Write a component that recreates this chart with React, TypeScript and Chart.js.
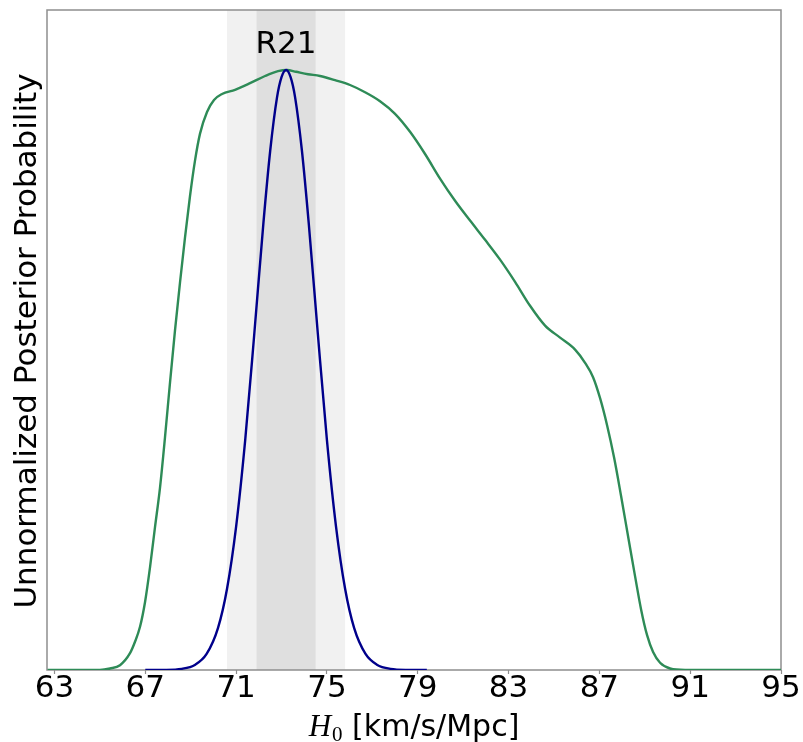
import React, { useEffect, useRef } from "react";
import { Chart, registerables } from "chart.js";

Chart.register(...registerables);

// ---- data ----
const X_MIN = 62.67;
const X_MAX = 95;
const Y_MIN = 0;
const Y_MAX = 1.1;
const X_TICKS = [63, 67, 71, 75, 79, 83, 87, 91, 95];

const R21_LABEL = "R21";
const R21_MEAN = 73.2;
const R21_SIGMA = 1.3;

const GREEN_X = [
  62.7, 65.0, 65.445, 65.885, 66.326, 66.546, 66.767, 66.987, 67.207, 67.427, 67.648, 67.868,
  68.088, 68.308, 68.529, 68.749, 68.969, 69.189, 69.41, 69.718, 70.026, 70.379, 70.952, 71.612,
  72.273, 72.846, 73.242, 73.639, 74.167, 74.696, 75.357, 76.018, 76.678, 77.339, 78.0, 78.661,
  79.322, 79.982, 80.643, 81.304, 81.965, 82.626, 83.286, 83.947, 84.608, 85.269, 85.93, 86.37,
  86.722, 87.031, 87.339, 87.648, 87.956, 88.264, 88.573, 88.837, 89.101, 89.366, 89.674,
  90.115, 90.775, 95.0,
];
const GREEN_Y = [
  0, 0, 0.0025, 0.008, 0.028, 0.047, 0.072, 0.113, 0.171, 0.238, 0.304, 0.388, 0.479, 0.566,
  0.646, 0.721, 0.79, 0.849, 0.894, 0.93, 0.95, 0.96, 0.967, 0.978, 0.99, 0.998, 1.0, 0.997,
  0.993, 0.99, 0.983, 0.975, 0.963, 0.948, 0.927, 0.897, 0.86, 0.819, 0.782, 0.749, 0.717,
  0.684, 0.647, 0.607, 0.574, 0.554, 0.534, 0.512, 0.488, 0.453, 0.408, 0.354, 0.29, 0.223,
  0.156, 0.101, 0.058, 0.03, 0.012, 0.0025, 0, 0,
];

const BLUE_X = [
  67.0, 67.8, 68.6, 69.2, 69.7, 70.2, 70.6, 71.0, 71.4, 71.8, 72.2, 72.5, 72.8, 73.0, 73.2,
  73.4, 73.6, 73.9, 74.2, 74.6, 75.0, 75.4, 75.8, 76.2, 76.7, 77.2, 77.8, 78.6, 79.4,
];
const BLUE_Y = [
  0, 0.0002, 0.0019, 0.0088, 0.0267, 0.0697, 0.1353, 0.239, 0.383, 0.56, 0.744, 0.865, 0.954,
  0.988, 1.0, 0.988, 0.954, 0.865, 0.744, 0.56, 0.383, 0.239, 0.1353, 0.0697, 0.0267, 0.0088,
  0.0019, 0.0002, 0,
];

const X_LABEL_MATH = "H";
const X_LABEL_SUB = "0";
const X_LABEL_REST = " [km/s/Mpc]";
const Y_LABEL = "Unnormalized Posterior Probability";

const SANS = '"DejaVu Sans", sans-serif';

const decorPlugin = {
  id: "decor",
  beforeDatasetsDraw(chart: any) {
    const { ctx, chartArea } = chart;
    const xs = chart.scales.x;
    const { top, bottom, left, right } = chartArea;
    ctx.save();
    const o1 = xs.getPixelForValue(R21_MEAN - 2 * R21_SIGMA);
    const o2 = xs.getPixelForValue(R21_MEAN + 2 * R21_SIGMA);
    ctx.fillStyle = "#f1f1f1";
    ctx.fillRect(o1, top, o2 - o1, bottom - top);
    const i1 = xs.getPixelForValue(R21_MEAN - R21_SIGMA);
    const i2 = xs.getPixelForValue(R21_MEAN + R21_SIGMA);
    ctx.fillStyle = "#dfdfdf";
    ctx.fillRect(i1, top, i2 - i1, bottom - top);
    ctx.strokeStyle = "#8e8e8e";
    ctx.lineWidth = 1.5;
    ctx.strokeRect(left, top, right - left, bottom - top);
    ctx.restore();
  },
  afterDraw(chart: any) {
    const { ctx, chartArea } = chart;
    const xs = chart.scales.x;
    const { top, bottom, left, right } = chartArea;
    ctx.save();
    ctx.fillStyle = "#000";
    ctx.font = `31px ${SANS}`;
    ctx.textAlign = "center";
    ctx.textBaseline = "alphabetic";
    ctx.fillText(R21_LABEL, xs.getPixelForValue(R21_MEAN), 53);

    const fMath = 'italic 31px "Liberation Serif", serif';
    const fSub = '21px "Liberation Serif", serif';
    const fRest = `30px ${SANS}`;
    ctx.font = fMath;
    const w1 = ctx.measureText(X_LABEL_MATH).width;
    ctx.font = fSub;
    const w2 = ctx.measureText(X_LABEL_SUB).width;
    ctx.font = fRest;
    const w3 = ctx.measureText(X_LABEL_REST).width;
    const total = w1 + 1 + w2 + w3;
    const cx = (left + right) / 2;
    let x = cx - total / 2;
    const base = 736;
    ctx.textAlign = "left";
    ctx.font = fMath;
    ctx.fillText(X_LABEL_MATH, x, base);
    x += w1 + 1;
    ctx.font = fSub;
    ctx.fillText(X_LABEL_SUB, x, base + 5);
    x += w2;
    ctx.font = fRest;
    ctx.fillText(X_LABEL_REST, x, base);

    ctx.save();
    ctx.translate(36, (top + bottom) / 2 + 1);
    ctx.rotate(-Math.PI / 2);
    ctx.textAlign = "center";
    ctx.font = `31px ${SANS}`;
    ctx.fillText(Y_LABEL, 0, 0);
    ctx.restore();
    ctx.restore();
  },
};

export default function App() {
  const ref = useRef<HTMLCanvasElement | null>(null);
  useEffect(() => {
    if (!ref.current) return;
    const chart = new Chart(ref.current, {
      type: "line",
      data: {
        datasets: [
          {
            label: "R21",
            data: BLUE_X.map((v, i) => ({ x: v, y: BLUE_Y[i] })),
            borderColor: "#00008b",
            borderWidth: 2.4,
            pointRadius: 0,
            fill: false,
            cubicInterpolationMode: "monotone",
            order: 0,
          },
          {
            label: "posterior",
            data: GREEN_X.map((v, i) => ({ x: v, y: GREEN_Y[i] })),
            borderColor: "#2e8b57",
            borderWidth: 2.4,
            pointRadius: 0,
            fill: false,
            cubicInterpolationMode: "monotone",
            order: 1,
          },
        ],
      },
      options: {
        animation: false,
        responsive: false,
        devicePixelRatio: 1,
        layout: { padding: { left: 47, top: 10, right: 22, bottom: 0 } },
        plugins: { legend: { display: false }, tooltip: { enabled: false } },
        scales: {
          x: {
            type: "linear",
            min: X_MIN,
            max: X_MAX,
            afterBuildTicks: (scale: any) => {
              scale.ticks = X_TICKS.map((v) => ({ value: v }));
            },
            afterFit: (scale: any) => {
              scale.height = 72;
            },
            border: { display: false },
            grid: {
              drawOnChartArea: false,
              drawTicks: true,
              tickLength: 4,
              tickColor: "#8e8e8e",
              tickWidth: 1.2,
            },
            ticks: {
              color: "#000",
              font: { family: SANS, size: 31, lineHeight: 1 },
              padding: -1,
              maxRotation: 0,
              autoSkip: false,
              callback: (v: any) => String(v),
            },
          },
          y: {
            display: false,
            min: Y_MIN,
            max: Y_MAX,
          },
        },
      },
      plugins: [decorPlugin],
    });
    return () => chart.destroy();
  }, []);
  return (
    <div style={{ position: "fixed", left: 0, top: 0, width: 803, height: 742, background: "#fff" }}>
      <canvas ref={ref} width={803} height={742} style={{ width: 803, height: 742 }} />
    </div>
  );
}
